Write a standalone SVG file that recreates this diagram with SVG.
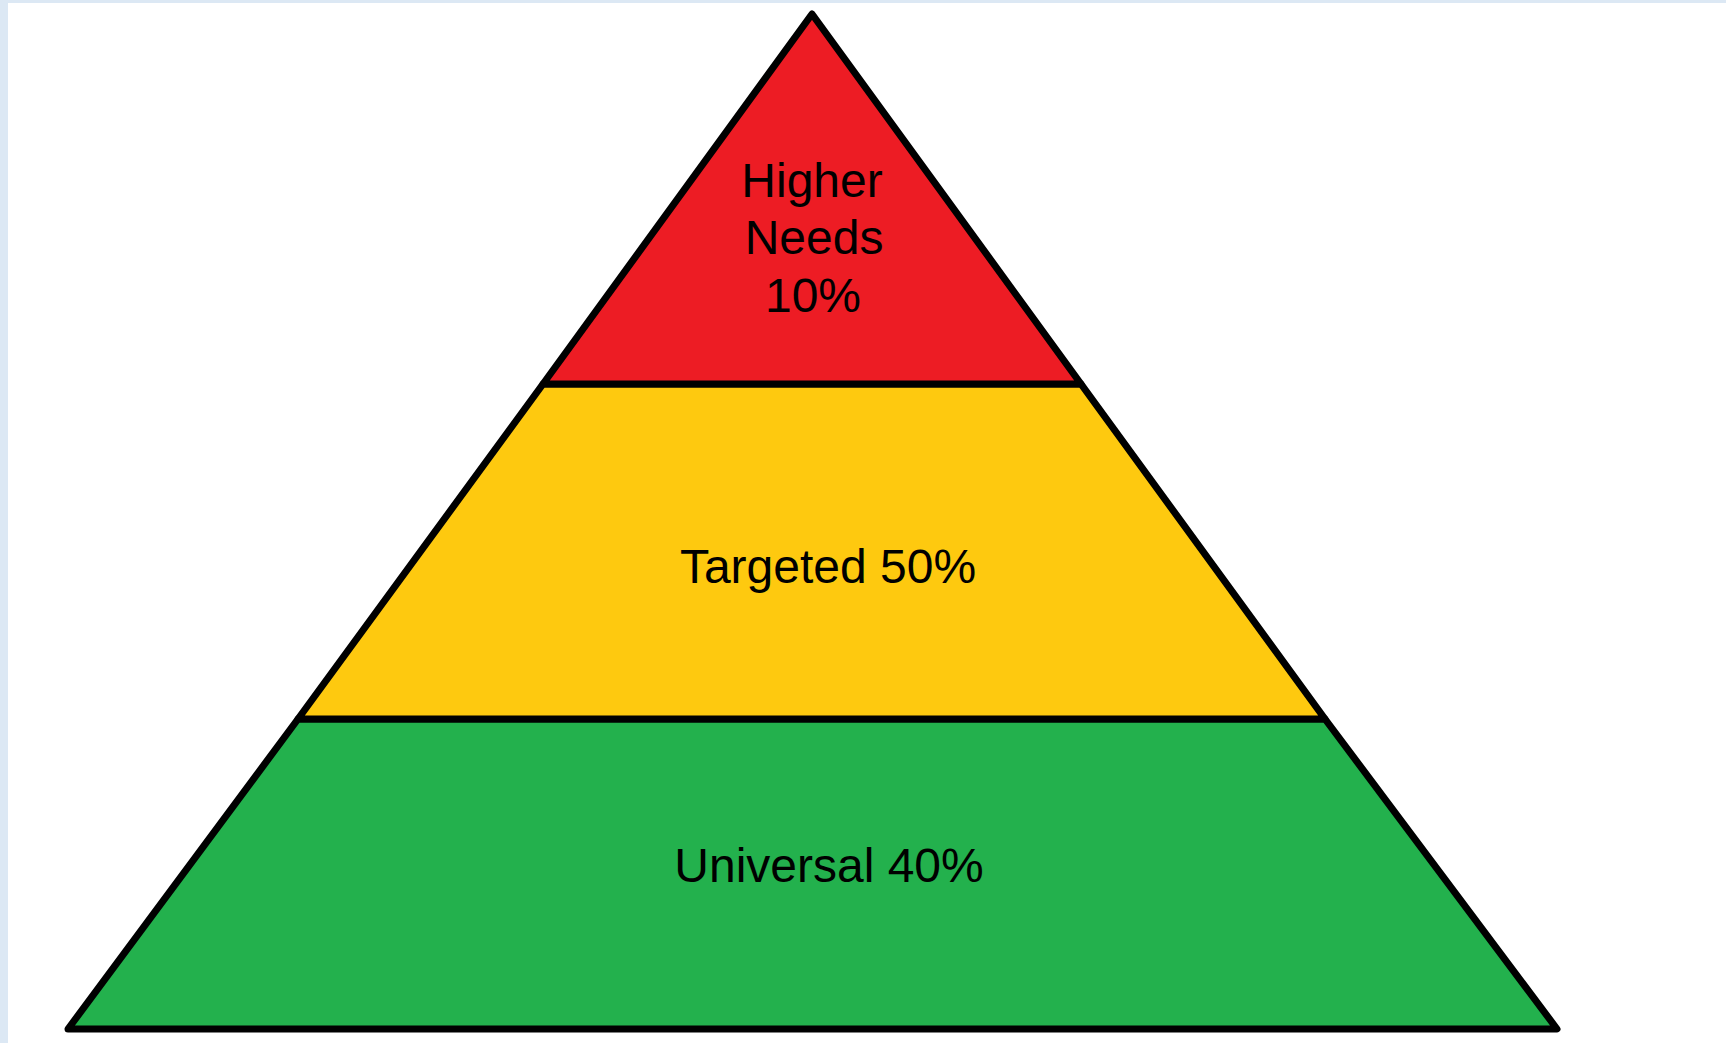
<svg xmlns="http://www.w3.org/2000/svg" width="1726" height="1043" viewBox="0 0 1726 1043">
<style>
.band{stroke:#000;stroke-width:7;stroke-linejoin:round}
.lbl{font-family:"Liberation Sans",Arial,sans-serif;font-size:48px;fill:#000;text-anchor:middle}
</style>
<rect x="0" y="0" width="1726" height="1043" fill="#ffffff"/>
<rect x="0" y="0" width="1726" height="3" fill="#dce8f4"/>
<rect x="0" y="0" width="8" height="1043" fill="#dce8f4"/>
<g id="tier-universal">
<polygon class="band" points="298,719 1325,719 1557,1029 68,1029" fill="#23b14d"/>
<text class="lbl" x="829" y="882">Universal 40%</text>
</g>
<g id="tier-targeted">
<polygon class="band" points="543,384 1081,384 1325,719 298,719" fill="#fec90f"/>
<text class="lbl" x="828" y="583">Targeted 50%</text>
</g>
<g id="tier-higher">
<polygon class="band" points="812,14 1081,384 543,384" fill="#ed1c24"/>
<text class="lbl" x="812" y="197">Higher</text>
<text class="lbl" x="814" y="254">Needs</text>
<text class="lbl" x="813" y="312">10%</text>
</g>
<g id="connectors"></g>
</svg>
